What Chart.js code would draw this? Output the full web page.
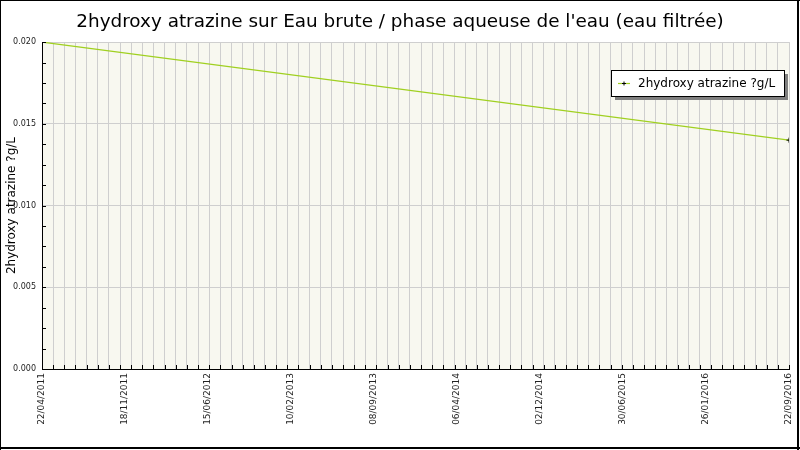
<!DOCTYPE html>
<html><head><meta charset="utf-8">
<script src="https://cdn.jsdelivr.net/npm/chart.js@4.4.1/dist/chart.umd.min.js"></script>
<style>html,body{margin:0;padding:0;background:#fff}#wrap{width:800px;height:450px}</style>
</head><body><div id="wrap"><canvas id="c" width="800" height="450"></canvas></div>
<script>
const chartTitle = "2hydroxy atrazine sur Eau brute / phase aqueuse de l'eau (eau filtrée)";
const seriesName = "2hydroxy atrazine ?g/L";
const sampleDates = ["22/04/2011", "22/09/2016"];
const sampleValues = [0.020, 0.014];
const xTickLabels = ["22/04/2011","18/11/2011","15/06/2012","10/02/2013","08/09/2013","06/04/2014","02/12/2014","30/06/2015","26/01/2016","22/09/2016"];
const yMin = 0, yMax = 0.020, yMajor = 0.005, yMinor = 0.00125;
const xGridCount = 67;

function dayNum(s){const p=s.split('/').map(Number);return Date.UTC(p[2],p[1]-1,p[0])/86400000;}
const day0 = dayNum(sampleDates[0]);
const xs = sampleDates.map(s=>dayNum(s)-day0);
const xMax = xs[xs.length-1];
const points = xs.map((x,i)=>({x:x, y:sampleValues[i]}));
const isMajor = v => Math.abs(v/yMajor - Math.round(v/yMajor)) < 1e-6;
const FONT = "'DejaVu Sans', sans-serif";

const decor = {
  id:'decor',
  beforeDraw(chart){
    const {ctx, chartArea:a} = chart;
    ctx.save();
    ctx.fillStyle = '#f8f8f0';
    ctx.fillRect(a.left, a.top, a.right-a.left, a.bottom-a.top);
    ctx.restore();
  },
  afterDraw(chart){
    const {ctx, chartArea:a, scales} = chart;
    ctx.save();
    // inside tick marks
    ctx.strokeStyle = '#000'; ctx.lineWidth = 1;
    ctx.beginPath();
    scales.x.ticks.forEach(t=>{ if(!t.grid) return; const px=Math.round(scales.x.getPixelForValue(t.value))+0.5; ctx.moveTo(px,a.bottom); ctx.lineTo(px,a.bottom-4); });
    scales.y.ticks.forEach(t=>{ const py=Math.round(scales.y.getPixelForValue(t.value))+0.5; ctx.moveTo(a.left,py); ctx.lineTo(a.left+4,py); });
    ctx.stroke();
    // legend
    ctx.font = "12px " + FONT;
    const tw = ctx.measureText(seriesName).width;
    const bw = Math.round(27 + tw + 9), bh = 26;
    const bx = Math.round(a.right - 5 - bw), by = Math.round(a.top + 28);
    ctx.fillStyle = '#7f7f7f';
    ctx.fillRect(bx+4, by+4, bw, bh);
    ctx.fillStyle = '#fff';
    ctx.fillRect(bx, by, bw, bh);
    ctx.strokeStyle = '#000';
    ctx.strokeRect(bx+0.5, by+0.5, bw, bh);
    const ly = by + 13.5;
    ctx.strokeStyle = '#a0d020'; ctx.lineWidth = 1.2;
    ctx.beginPath(); ctx.moveTo(bx+7, ly); ctx.lineTo(bx+19, ly); ctx.stroke();
    ctx.strokeStyle = '#000'; ctx.lineWidth = 1;
    ctx.beginPath(); ctx.moveTo(bx+11, ly); ctx.lineTo(bx+15, ly); ctx.moveTo(bx+13, ly-2); ctx.lineTo(bx+13, ly+2); ctx.stroke();
    ctx.fillStyle = '#000'; ctx.textBaseline = 'middle'; ctx.textAlign = 'left';
    ctx.fillText(seriesName, bx+27, by+13.5);
    // outer frame
    ctx.fillStyle = '#000';
    ctx.fillRect(0,0,800,1);
    ctx.fillRect(0,0,1,450);
    ctx.fillRect(797,0,2,450);
    ctx.fillRect(0,447,800,2);
    ctx.restore();
  }
};

new Chart(document.getElementById('c'), {
  type:'line',
  data:{ datasets:[{
    label: seriesName,
    data: points,
    borderColor:'#a0d020',
    borderWidth:1.2,
    pointStyle:'cross',
    pointRadius:2.5,
    pointBorderColor:'#000',
    pointBorderWidth:1,
    pointBackgroundColor:'#000',
    tension:0,
    fill:false
  }]},
  options:{
    responsive:false,
    devicePixelRatio:1,
    animation:false,
    layout:{padding:{left:0,right:0,top:0,bottom:0}},
    plugins:{
      legend:{display:false},
      tooltip:{enabled:false},
      title:{display:true, text:chartTitle, color:'#000', font:{family:FONT, size:18.4, weight:'normal', lineHeight:1.2}, padding:{top:11,bottom:9}}
    },
    scales:{
      x:{
        type:'linear', min:0, max:xMax, position:'bottom',
        afterBuildTicks: s => {
          const t = [];
          for(let i=0;i<=xGridCount;i++) t.push({value: xMax*i/xGridCount, grid:true, lbl:''});
          xTickLabels.forEach((l,i)=>t.push({value: xMax*i/(xTickLabels.length-1), grid:false, lbl:l}));
          s.ticks = t;
        },
        afterFit: s => { s.height = 81; s.paddingRight = 0; s.paddingLeft = 0; },
        ticks:{autoSkip:false, minRotation:90, maxRotation:90, padding:4, color:'#222', font:{family:FONT, size:9}, callback:(v,i,t)=>t[i].lbl},
        grid:{drawTicks:false, lineWidth:1, color: c => (c.tick && c.tick.grid) ? '#cfcfcf' : 'rgba(0,0,0,0)'},
        border:{color:'#000', width:1}
      },
      y:{
        type:'linear', min:yMin, max:yMax, position:'left',
        afterBuildTicks: s => {
          const t = []; const n = Math.round((yMax-yMin)/yMinor);
          for(let i=0;i<=n;i++) t.push({value: yMin + i*yMinor});
          s.ticks = t;
        },
        afterFit: s => { s.width = 42; },
        ticks:{autoSkip:false, padding:6, color:'#222', font:{family:FONT, size:8}, callback: v => isMajor(v) ? v.toFixed(3) : ''},
        grid:{drawTicks:false, lineWidth:1, color: c => (c.tick && isMajor(c.tick.value)) ? '#cfcfcf' : 'rgba(0,0,0,0)'},
        border:{color:'#000', width:1},
        title:{display:true, text:seriesName, color:'#000', font:{family:FONT, size:12}, padding:{top:5,bottom:0}}
      },
      yr:{
        type:'linear', position:'right', display:true,
        grid:{display:false, drawTicks:false}, ticks:{display:false}, border:{display:false},
        afterFit: s => { s.width = 11; }
      }
    }
  },
  plugins:[decor]
});
</script>
</body></html>
